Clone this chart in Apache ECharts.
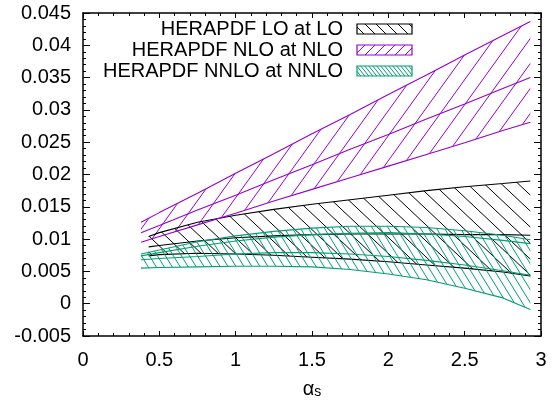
<!DOCTYPE html>
<html>
<head>
<meta charset="utf-8">
<script src="https://cdn.jsdelivr.net/npm/echarts@6/dist/echarts.min.js"></script>
<style>
html,body{margin:0;padding:0;background:#fff;}
#c{width:555px;height:404px;}
</style>
</head>
<body>
<div id="c"></div>
<script>
// ---- data ----
const xsLO   = [0.43, 0.5, 0.75, 1.0, 1.25, 1.5, 1.75, 2.0, 2.25, 2.5, 2.75, 2.93];
const loTop  = [0.0104, 0.0110, 0.0126, 0.0137, 0.0146, 0.0154, 0.0161, 0.0168, 0.0175, 0.0181, 0.0186, 0.0190];
const loMid  = [0.0088, 0.0090, 0.0097, 0.0102, 0.0105, 0.0107, 0.0108, 0.0108, 0.0108, 0.0107, 0.0107, 0.0106];
const loBot  = [0.0074, 0.0076, 0.0078, 0.0077, 0.0075, 0.0072, 0.0069, 0.0065, 0.0060, 0.0055, 0.0049, 0.0043];

const xsHO   = [0.38, 0.5, 0.75, 1.0, 1.25, 1.5, 1.75, 2.0, 2.25, 2.5, 2.75, 2.93];
const nloTop = [0.0126, 0.0141, 0.0171, 0.0202, 0.0232, 0.0263, 0.0293, 0.0324, 0.0354, 0.0385, 0.0415, 0.0437];
const nloMid = [0.0110, 0.0121, 0.0145, 0.0168, 0.0192, 0.0215, 0.0239, 0.0262, 0.0286, 0.0309, 0.0333, 0.0350];
const nloBot = [0.0095, 0.0104, 0.0122, 0.0140, 0.0159, 0.0177, 0.0195, 0.0213, 0.0231, 0.0249, 0.0268, 0.0281];

const nnloTop  = [0.0077, 0.0083, 0.0096, 0.0105, 0.0112, 0.0117, 0.0120, 0.0120, 0.0118, 0.0113, 0.0106, 0.0099];
const nnloMid1 = [0.0074, 0.0079, 0.0089, 0.0097, 0.0103, 0.0107, 0.0109, 0.0110, 0.0108, 0.0104, 0.0098, 0.0093];
const nnloMid2 = [0.0068, 0.0070, 0.0073, 0.0077, 0.0079, 0.0079, 0.0077, 0.0073, 0.0067, 0.0060, 0.0051, 0.0044];
const nnloBot  = [0.0055, 0.0056, 0.0057, 0.0058, 0.0058, 0.0057, 0.0053, 0.0046, 0.0037, 0.0024, 0.0009, -0.0009];

const legendNames = ['HERAPDF LO at LO', 'HERAPDF NLO at NLO', 'HERAPDF NNLO at NNLO'];
const xTicks = {min: 0, max: 3, interval: 0.5};
const yTicks = {min: -0.005, max: 0.045, interval: 0.005};

// ---- styling ----
const C_LO = '#000000', C_NLO = '#9400d3', C_NNLO = '#009e73';
const FONT = '"Liberation Sans", Arial, Helvetica, sans-serif';

function hatch(W, H, color, dir, lw) {
  const c = document.createElement('canvas');
  c.width = W; c.height = H;
  const g = c.getContext('2d');
  g.strokeStyle = color; g.lineWidth = lw;
  g.beginPath();
  for (const o of [-W, 0, W]) {
    if (dir === 'back') { g.moveTo(o, 0); g.lineTo(o + W, H); }
    else { g.moveTo(o, H); g.lineTo(o + W, 0); }
  }
  g.stroke();
  return {image: c, repeat: 'repeat'};
}

const patLO   = hatch(17, 16, C_LO, 'back', 1);
const patNLO  = hatch(18, 25, C_NLO, 'fwd', 1);
const patNNLO = hatch(8, 13, C_NNLO, 'back', 1);
const keyLO   = hatch(11, 11, C_LO, 'back', 1);
const keyNLO  = hatch(10, 10, C_NLO, 'fwd', 1);
const keyNNLO = hatch(4, 5, C_NNLO, 'back', 1);

function band(xs, lo, hi, pat, z) {
  return {
    type: 'custom',
    coordinateSystem: 'cartesian2d',
    silent: true, z: z,
    data: xs.map((x, i) => [x, lo[i], hi[i]]),
    encode: {x: 0, y: [1, 2]},
    renderItem: function (params, api) {
      if (params.dataIndex !== 0) return null;
      const pts = [];
      for (let i = 0; i < xs.length; i++) pts.push(api.coord([xs[i], hi[i]]));
      for (let i = xs.length - 1; i >= 0; i--) pts.push(api.coord([xs[i], lo[i]]));
      return {
        type: 'polygon',
        shape: {points: pts},
        style: {fill: pat, stroke: null}
      };
    }
  };
}

function line(xs, ys, color, z) {
  return {
    type: 'line', silent: true, z: z,
    data: xs.map((x, i) => [x, ys[i]]),
    showSymbol: false, symbol: 'none',
    lineStyle: {color: color, width: 1.1},
    animation: false
  };
}

const chart = echarts.init(document.getElementById('c'), null, {renderer: 'canvas'});

const axisCommon = {
  axisLine: {show: true, onZero: false, lineStyle: {color: '#000', width: 1.5}},
  splitLine: {show: false},
};

chart.setOption({
  animation: false,
  backgroundColor: '#fff',
  grid: {left: 83, right: 14, top: 13, bottom: 68, containLabel: false},
  xAxis: [
    Object.assign({}, axisCommon, {
      type: 'value', position: 'bottom', min: xTicks.min, max: xTicks.max, interval: xTicks.interval,
      axisTick: {show: true, inside: true, length: 5, lineStyle: {color: '#000', width: 1}},
      minorTick: {show: true, splitNumber: 5, length: 3, lineStyle: {color: '#000', width: 1}},
      axisLabel: {color: '#000', fontSize: 20, fontFamily: FONT, margin: 14},
      name: '{a|α}{s|s}', nameLocation: 'middle', nameGap: 43,
      nameTextStyle: {
        rich: {
          a: {fontSize: 20, fontFamily: FONT, color: '#000', lineHeight: 20, verticalAlign: 'top'},
          s: {fontSize: 14, fontFamily: FONT, color: '#000', lineHeight: 14, padding: [9, 0, 0, 0], verticalAlign: 'bottom'}
        }
      }
    }),
    Object.assign({}, axisCommon, {
      type: 'value', position: 'top', min: xTicks.min, max: xTicks.max, interval: xTicks.interval,
      axisTick: {show: true, inside: true, length: 5, lineStyle: {color: '#000', width: 1}},
      minorTick: {show: true, splitNumber: 5, length: 3, lineStyle: {color: '#000', width: 1}},
      axisLabel: {show: false}
    })
  ],
  yAxis: [
    Object.assign({}, axisCommon, {
      type: 'value', position: 'left', min: yTicks.min, max: yTicks.max, interval: yTicks.interval,
      axisTick: {show: true, inside: true, length: 7, lineStyle: {color: '#000', width: 1}},
      minorTick: {show: true, splitNumber: 5, length: 3, lineStyle: {color: '#000', width: 1}},
      axisLabel: {color: '#000', fontSize: 20, fontFamily: FONT, margin: 12}
    }),
    Object.assign({}, axisCommon, {
      type: 'value', position: 'right', min: yTicks.min, max: yTicks.max, interval: yTicks.interval,
      axisTick: {show: true, inside: true, length: 7, lineStyle: {color: '#000', width: 1}},
      minorTick: {show: true, splitNumber: 5, length: 3, lineStyle: {color: '#000', width: 1}},
      axisLabel: {show: false}
    })
  ],
  series: [
    band(xsLO, loBot, loTop, patLO, 2),
    line(xsLO, loTop, C_LO, 3), line(xsLO, loMid, C_LO, 3), line(xsLO, loBot, C_LO, 3),
    band(xsHO, nloBot, nloTop, patNLO, 2),
    line(xsHO, nloTop, C_NLO, 3), line(xsHO, nloMid, C_NLO, 3), line(xsHO, nloBot, C_NLO, 3),
    band(xsHO, nnloBot, nnloTop, patNNLO, 4),
    line(xsHO, nnloTop, C_NNLO, 5), line(xsHO, nnloMid1, C_NNLO, 5),
    line(xsHO, nnloMid2, C_NNLO, 5), line(xsHO, nnloBot, C_NNLO, 5)
  ],
  graphic: [
    {type: 'text', x: 343, y: 29, style: {text: legendNames[0], font: '20px ' + FONT, fill: '#000', align: 'right', verticalAlign: 'middle'}},
    {type: 'text', x: 343, y: 50, style: {text: legendNames[1], font: '20px ' + FONT, fill: '#000', align: 'right', verticalAlign: 'middle'}},
    {type: 'text', x: 343, y: 71, style: {text: legendNames[2], font: '20px ' + FONT, fill: '#000', align: 'right', verticalAlign: 'middle'}},
    {type: 'rect', shape: {x: 357, y: 24, width: 55, height: 10}, style: {fill: keyLO, stroke: C_LO, lineWidth: 1.2}},
    {type: 'rect', shape: {x: 357, y: 45, width: 55, height: 10}, style: {fill: keyNLO, stroke: C_NLO, lineWidth: 1.2}},
    {type: 'rect', shape: {x: 357, y: 66, width: 55, height: 10}, style: {fill: keyNNLO, stroke: C_NNLO, lineWidth: 1.2}}
  ]
});
</script>
</body>
</html>
